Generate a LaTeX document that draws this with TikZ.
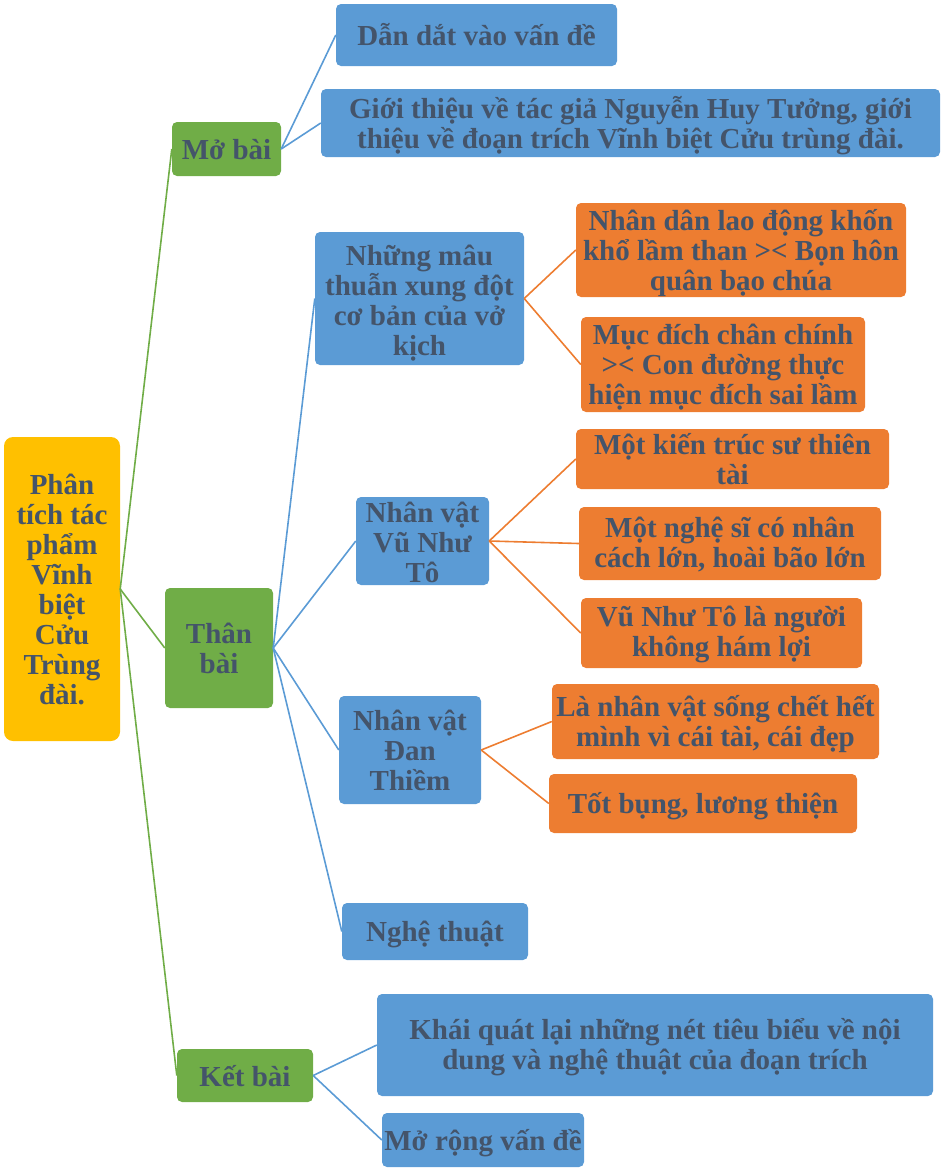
\documentclass[tikz,border=0pt]{standalone}
\usepackage{fontspec}
\setmainfont{Liberation Serif}
\definecolor{txt}{HTML}{44546A}
\definecolor{cyel}{HTML}{FFC000}
\definecolor{cgrn}{HTML}{70AD47}
\definecolor{cblu}{HTML}{5B9BD5}
\definecolor{corg}{HTML}{ED7D31}
\tikzset{
  box/.style={rectangle, rounded corners=5pt, inner sep=0pt},
  lbl/.style={inner sep=0pt, align=center, text=txt,
    font=\fontsize{29}{30}\selectfont\bfseries},
  rootbox/.style={box, fill=cyel, rounded corners=9pt},
  gbox/.style={box, fill=cgrn},
  bbox/.style={box, fill=cblu},
  obox/.style={box, fill=corg},
  gline/.style={draw=cgrn, line width=1.6pt},
  bline/.style={draw=cblu, line width=1.6pt},
  oline/.style={draw=corg, line width=1.6pt},
}
% style, name, centre, width, height, text shift down, text
\newcommand{\bx}[7]{\node[#1, minimum width=#4pt, minimum height=#5pt] (#2) at (#3) {};
  \node[lbl] (#2T) at ([yshift=-#6pt]#2.center) {#7};}
\begin{document}
\begin{tikzpicture}[x=1pt,y=-1pt]
\useasboundingbox (0,0) rectangle (942,1171);
\bx{rootbox}{root}{62,589}{116}{304}{0}{Phân\\tích tác\\phẩm\\Vĩnh\\biệt\\Cửu\\Trùng\\đài.}
\bx{gbox}{mo}{226.5,149}{109}{54}{1}{Mở bài}
\bx{gbox}{than}{219,648}{108}{120}{0}{Thân\\bài}
\bx{gbox}{ket}{245,1075.5}{136}{53}{1}{Kết bài}
\bx{bbox}{dan}{476.5,35}{281}{62}{0}{Dẫn dắt vào vấn đề}
\bx{bbox}{gioi}{630.5,123}{619}{68}{2.5}{Giới thiệu về tác giả Nguyễn Huy Tưởng, giới\\thiệu về đoạn trích Vĩnh biệt Cửu trùng đài.}
\bx{bbox}{mau}{419.5,298.5}{209}{133}{5}{Những mâu\\thuẫn xung đột\\cơ bản của vở\\kịch}
\bx{bbox}{vu}{422.5,541}{133}{88}{1}{Nhân vật\\Vũ Như\\Tô}
\bx{bbox}{dt}{410,750}{142}{108}{0}{Nhân vật\\Đan\\Thiềm}
\bx{bbox}{nt}{435,931.5}{186}{57}{3}{Nghệ thuật}
\bx{obox}{nd}{741,250}{330}{94}{3}{Nhân dân lao động khốn\\khổ lầm than >< Bọn hôn\\quân bạo chúa}
\bx{obox}{md}{723,364.5}{284}{95}{3}{Mục đích chân chính\\>< Con đường thực\\hiện mục đích sai lầm}
\bx{obox}{kt}{732.5,459}{313}{60}{0}{Một kiến trúc sư thiên\\tài}
\bx{obox}{ns}{730,543.5}{302}{73}{1}{Một nghệ sĩ có nhân\\cách lớn, hoài bão lớn}
\bx{obox}{vl}{721.5,633}{281}{70}{1}{Vũ Như Tô là người\\không hám lợi}
\bx{obox}{ln}{715.5,721.5}{327}{75}{3}{Là nhân vật sống chết hết\\mình vì cái tài, cái đẹp}
\bx{obox}{tb}{703,803.5}{308}{59}{3}{Tốt bụng, lương thiện}
\bx{bbox}{kq}{655,1045}{556}{102}{2}{Khái quát lại những nét tiêu biểu về nội\\dung và nghệ thuật của đoạn trích}
\bx{bbox}{mr}{483,1140}{202}{54}{3}{Mở rộng vấn đề}
\foreach \t in {mo,than,ket} \draw[gline] (root.east) -- (\t.west);
\foreach \t in {dan,gioi} \draw[bline] (mo.east) -- (\t.west);
\foreach \t in {mau,vu,dt,nt} \draw[bline] (than.east) -- (\t.west);
\foreach \t in {kq,mr} \draw[bline] (ket.east) -- (\t.west);
\foreach \t in {nd,md} \draw[oline] (mau.east) -- (\t.west);
\foreach \t in {kt,ns,vl} \draw[oline] (vu.east) -- (\t.west);
\foreach \t in {ln,tb} \draw[oline] (dt.east) -- (\t.west);
\end{tikzpicture}
\end{document}
